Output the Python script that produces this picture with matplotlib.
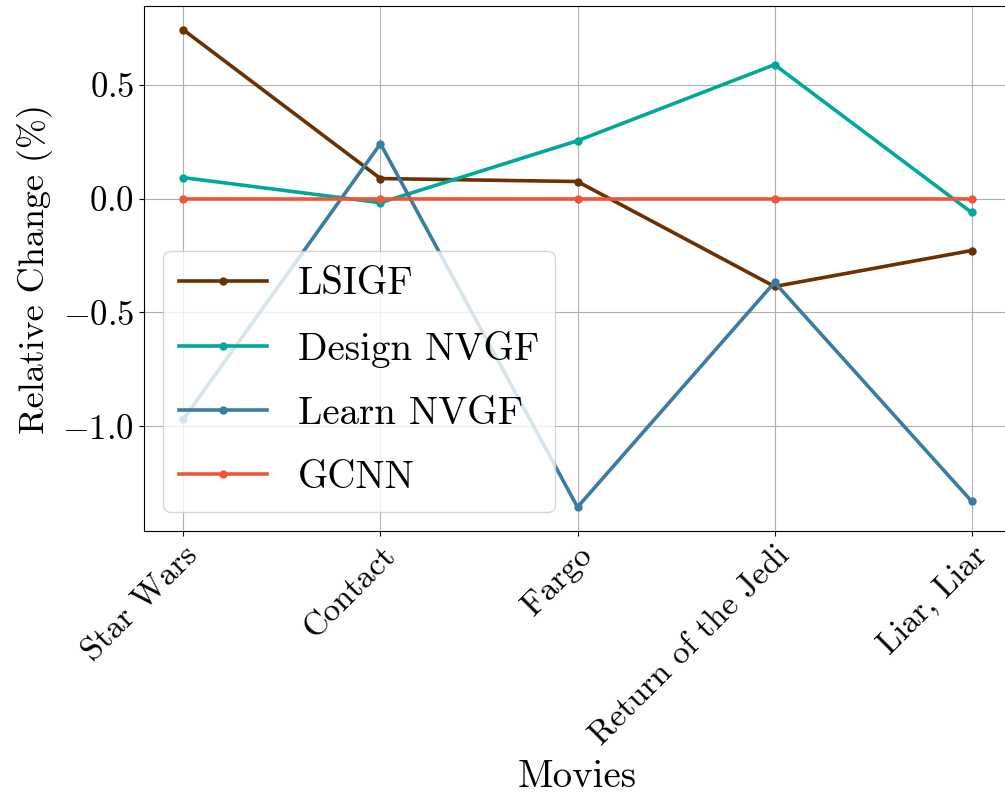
import numpy as np
import matplotlib
matplotlib.use("Agg")
matplotlib.rcParams.update({
    'font.family': 'serif',
    'font.serif': ['cmr10'],
    'mathtext.fontset': 'cm',
    'axes.formatter.use_mathtext': True,
    'font.size': 25,
    'xtick.labelsize': 24,
})
from matplotlib import pyplot as plt

movies = ['Star Wars', 'Contact', 'Fargo', 'Return of the Jedi', 'Liar, Liar']
lsigf = [0.741, 0.088, 0.075, -0.386, -0.228]
design_nvgf = [0.092, -0.018, 0.254, 0.588, -0.061]
learn_nvgf = [-0.969, 0.241, -1.355, -0.368, -1.329]
gcnn = [0.0, 0.0, 0.0, 0.0, 0.0]

series = [('LSIGF', lsigf, '#6b3100'),
          ('Design NVGF', design_nvgf, '#00a899'),
          ('Learn NVGF', learn_nvgf, '#3a7ca2'),
          ('GCNN', gcnn, '#f0553a')]

fig = plt.figure(figsize=(10.05, 7.95), dpi=100)
ax = fig.add_axes([144/1005, 1 - 531/795, (1011-144)/1005, (531-6)/795])

x = np.arange(len(movies))
for name, vals, col in series:
    ax.plot(x, vals, '-o', color=col, lw=2.6, ms=5, label=name)

ax.set_xticks(x)
ax.set_xticklabels(movies, rotation=45, ha='right', rotation_mode='anchor')
ax.set_xlabel('Movies', fontsize=28, labelpad=6)
ax.set_ylabel('Relative Change (%)', fontsize=26, labelpad=7)
ax.grid(True)
ax.legend(loc='lower left', fontsize=28, handlelength=2.26, labelspacing=0.73)

plt.savefig('out.png', dpi=100)
